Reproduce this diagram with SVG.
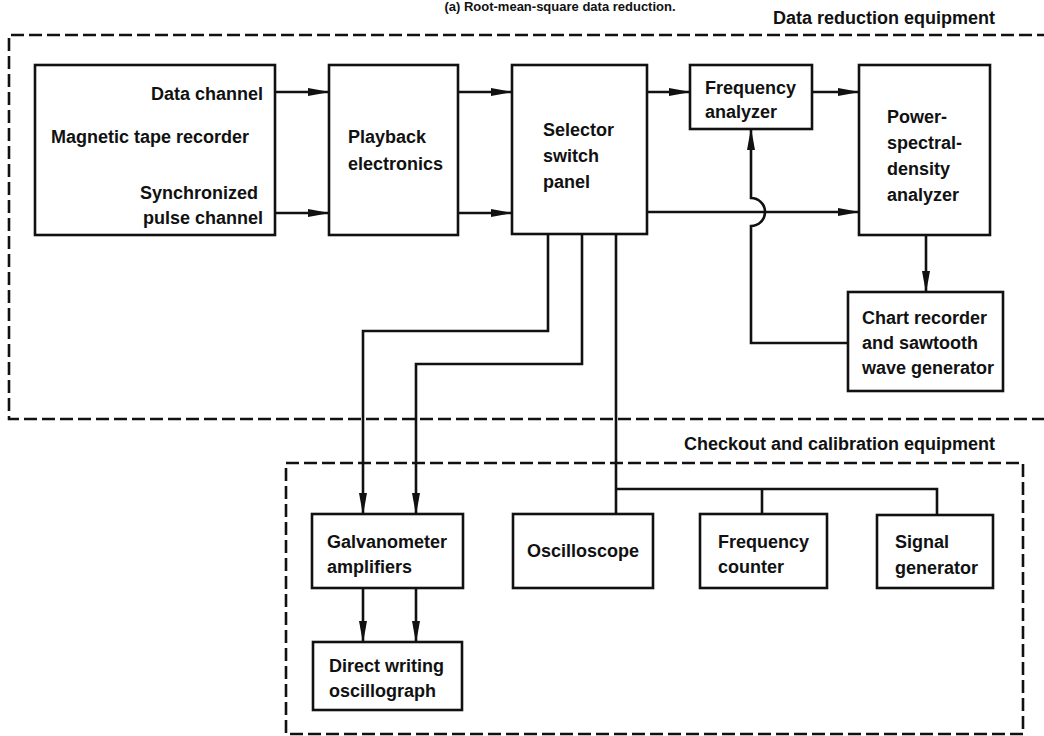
<svg xmlns="http://www.w3.org/2000/svg" width="1044" height="736" viewBox="0 0 1044 736">
<defs>
<marker id="ah" markerWidth="22" markerHeight="10" refX="21" refY="5" orient="auto" markerUnits="userSpaceOnUse">
<path d="M0,1 L22,5 L0,9 z" fill="#111"/>
</marker>
<style>
.box{fill:#fff;stroke:#111;stroke-width:2.6}
.grp{fill:none;stroke:#111;stroke-width:2.6;stroke-dasharray:13 5}
.ln{fill:none;stroke:#111;stroke-width:2.6}
.ar{fill:none;stroke:#111;stroke-width:2.6;marker-end:url(#ah)}
text{font-family:"Liberation Sans",Arial,sans-serif;font-size:18px;font-weight:bold;fill:#111}
.r{text-anchor:end}
.m{text-anchor:middle}
</style>
</defs>
<rect width="1044" height="736" fill="#fff"/>
<text x="560" y="11" class="m" style="font-size:13px">(a) Root-mean-square data reduction.</text>
<g id="groups">
<path class="grp" d="M1050,35 H9 V419 H1050"/>
<text x="995" y="24" class="r">Data reduction equipment</text>
<rect class="grp" x="286" y="463" width="737" height="271"/>
<text x="995" y="450" class="r">Checkout and calibration equipment</text>
</g>
<g id="connectors">
<path class="ar" d="M275,92 H329"/>
<path class="ar" d="M275,213 H329"/>
<path class="ar" d="M458,92 H512"/>
<path class="ar" d="M458,213 H512"/>
<path class="ar" d="M647,92 H690"/>
<path class="ar" d="M812,92 H859"/>
<path class="ar" d="M647,212 H859"/>
<path class="ar" d="M926,235 V292"/>
<path class="ar" d="M848,343 H751 V226 A14 14 0 0 0 751,198 V129"/>
<path class="ar" d="M548,234 V331 H363 V514"/>
<path class="ar" d="M582,234 V364 H416 V514"/>
<path class="ln" d="M616,234 V514"/>
<path class="ln" d="M616,489 H937 V515"/>
<path class="ln" d="M762,489 V514"/>
<path class="ar" d="M363,588 V642"/>
<path class="ar" d="M416,588 V642"/>
</g>
<g id="tape">
<rect class="box" x="35" y="65" width="240" height="170"/>
<text x="263" y="100" class="r">Data channel</text>
<text x="51" y="143">Magnetic tape recorder</text>
<text x="258" y="199" class="r">Synchronized</text>
<text x="263" y="224" class="r">pulse channel</text>
</g>
<g id="playback">
<rect class="box" x="329" y="65" width="129" height="170"/>
<text x="348" y="143">Playback</text>
<text x="348" y="170">electronics</text>
</g>
<g id="selector">
<rect class="box" x="512" y="65" width="135" height="169"/>
<text x="543" y="136">Selector</text>
<text x="543" y="162">switch</text>
<text x="543" y="188">panel</text>
</g>
<g id="freqanalyzer">
<rect class="box" x="690" y="65" width="122" height="64"/>
<text x="705" y="94">Frequency</text>
<text x="705" y="118">analyzer</text>
</g>
<g id="psd">
<rect class="box" x="859" y="65" width="131" height="170"/>
<text x="887" y="123">Power-</text>
<text x="887" y="149">spectral-</text>
<text x="887" y="175">density</text>
<text x="887" y="201">analyzer</text>
</g>
<g id="chart">
<rect class="box" x="848" y="292" width="155" height="99"/>
<text x="862" y="324">Chart recorder</text>
<text x="862" y="349">and sawtooth</text>
<text x="862" y="374">wave generator</text>
</g>
<g id="galvo">
<rect class="box" x="312" y="514" width="151" height="74"/>
<text x="327" y="548">Galvanometer</text>
<text x="327" y="573">amplifiers</text>
</g>
<g id="oscilloscope">
<rect class="box" x="513" y="514" width="140" height="74"/>
<text x="583" y="557" class="m">Oscilloscope</text>
</g>
<g id="freqcounter">
<rect class="box" x="700" y="514" width="127" height="74"/>
<text x="718" y="548">Frequency</text>
<text x="718" y="573">counter</text>
</g>
<g id="siggen">
<rect class="box" x="877" y="515" width="116" height="73"/>
<text x="895" y="548">Signal</text>
<text x="895" y="574">generator</text>
</g>
<g id="oscillograph">
<rect class="box" x="313" y="642" width="149" height="68"/>
<text x="329" y="672">Direct writing</text>
<text x="329" y="697">oscillograph</text>
</g>
</svg>
